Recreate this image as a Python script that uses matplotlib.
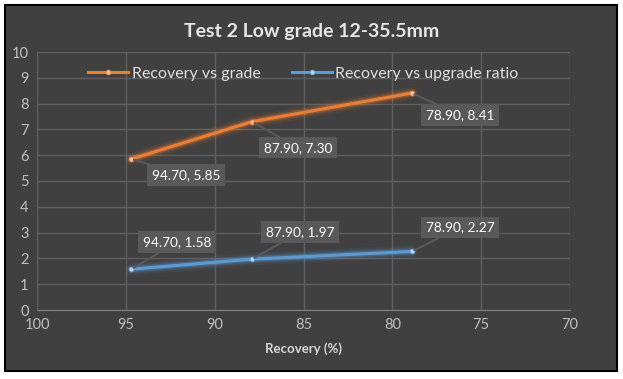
import matplotlib
matplotlib.use('Agg')
import matplotlib.pyplot as plt
from matplotlib.patches import Rectangle

plt.rcParams['font.family'] = ['Lato', 'DejaVu Sans']

# data
recovery = [94.70, 87.90, 78.90]
grade = [5.85, 7.30, 8.41]
upgrade_ratio = [1.58, 1.97, 2.27]
grade_offsets = [(55, -16), (46, -26), (48, -22)]
ratio_offsets = [(46, 27), (48, 27), (48, 24)]

bg = '#404040'
orange = '#ED7D31'
blue = '#5B9BD5'

fig = plt.figure(figsize=(6.23, 3.79), dpi=100, facecolor='white')
# chart frame
fig.patches.append(Rectangle((5/623, 1-371/379), 612/623, 366/379, transform=fig.transFigure,
                             facecolor=bg, edgecolor='black', lw=1.5, zorder=-1))

ax = fig.add_axes([37/623, 1-310/379, (570-37)/623, (310-52)/379])
ax.set_facecolor(bg)

def glow_line(x, y, c, label):
    for w, a in [(9, 0.08), (6, 0.15), (4, 0.3)]:
        ax.plot(x, y, color=c, lw=w, alpha=a, solid_capstyle='round', zorder=2)
    ax.plot(x, y, color=c, lw=2.2, marker='o', ms=3.5, mfc='#f5c9a8' if c == orange else '#bcd7ef',
            mec=c, mew=0.6, label=label, zorder=3)

glow_line(recovery, grade, orange, 'Recovery vs grade')
glow_line(recovery, upgrade_ratio, blue, 'Recovery vs upgrade ratio')

def labels(ys, offsets):
    for x, y, off in zip(recovery, ys, offsets):
        ax.annotate('%.2f, %.2f' % (x, y), xy=(x, y), xytext=off, textcoords='offset pixels',
                    ha='center', va='center', color='white', fontsize=9.8,
                    bbox=dict(boxstyle='square,pad=0.35', fc='#595959', ec='none'),
                    arrowprops=dict(arrowstyle='-', color='#595959', lw=1.5, shrinkA=0, shrinkB=2),
                    zorder=4)

labels(grade, grade_offsets)
labels(upgrade_ratio, ratio_offsets)

ax.set_xlim(100, 70)
ax.set_ylim(0, 10)
ax.set_xticks(range(100, 69, -5))
ax.set_yticks(range(0, 11))
ax.grid(True, color='#5f5f5f', lw=1)
ax.set_axisbelow(True)
for s in ['top', 'right', 'left']:
    ax.spines[s].set_visible(False)
ax.spines['bottom'].set_color('#7f7f7f')
ax.tick_params(length=0, colors='#bfbfbf', labelsize=10.5, pad=6)
ax.set_xlabel('Recovery (%)', color='#d9d9d9', fontsize=9.5, fontweight='bold', labelpad=7)

fig.text(0.5, 1-32/379, 'Test 2 Low grade 12-35.5mm', ha='center', va='center',
         color='#e6e6e6', fontsize=14, fontweight='bold')

leg = ax.legend(loc='upper center', bbox_to_anchor=(0.5, 1.0), ncol=2, frameon=False,
                fontsize=11.5, labelcolor='#e0e0e0', handlelength=2.5, columnspacing=2.0,
                handletextpad=0.2)

fig.savefig('out.png', dpi=100, facecolor='white')
